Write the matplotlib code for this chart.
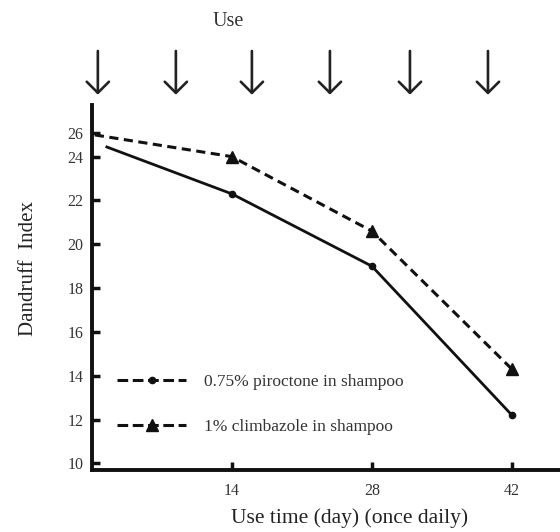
import matplotlib
matplotlib.use("Agg")
import matplotlib.pyplot as plt
import numpy as np
from matplotlib.lines import Line2D
from matplotlib.scale import FuncScale

plt.rcParams['font.family'] = ['Liberation Serif', 'DejaVu Serif']

# ---- data ----
piro_days = [1.5, 14, 28, 42]
piro_vals = [24.8, 22.3, 19.0, 12.2]
clim_days = [0.3, 14, 28, 42]
clim_vals = [25.8, 24.0, 20.6, 14.3]
x_ticks = [14, 28, 42]
y_ticks = [10, 12, 14, 16, 18, 20, 22, 24, 26]
use_days = [0.6, 8.4, 16.0, 23.8, 31.8, 39.6]
labels = ["0.75% piroctone in shampoo", "1% climbazole in shampoo"]

# compressed scale above 24 (as in the original axis)
def fwd(y):
    y = np.asarray(y, dtype=float)
    return np.where(y <= 24, y, 24 + (y - 24) * 0.55)

def inv(y):
    y = np.asarray(y, dtype=float)
    return np.where(y <= 24, y, 24 + (y - 24) / 0.55)

fig = plt.figure(figsize=(5.6, 5.32), dpi=100)
ax = fig.add_axes([0.164, 0.1165, 0.836, 0.6865])
ax.set_yscale(FuncScale(ax.yaxis, (fwd, inv)))

ax.plot(piro_days, piro_vals, color='#111111', lw=2.0, ls='-')
ax.plot(piro_days[1:], piro_vals[1:], ls='none', marker='o', ms=4.5, color='#111111')
ax.plot(clim_days, clim_vals, color='#111111', lw=2.2, ls=(0, (3.0, 1.8)))
ax.plot(clim_days[1:], clim_vals[1:], ls='none', marker='^', ms=8, color='#111111')

ax.set_xlim(0, 46.8)
ax.set_ylim(9.7, 28.3)
ax.set_xticks(x_ticks)
ax.set_yticks(y_ticks)
ax.tick_params(axis='both', direction='in', length=6, width=2.5, labelsize=11.5,
               colors='#111111', labelcolor='#333333')
ax.tick_params(axis='x', pad=9)
ax.tick_params(axis='y', pad=6)
for s in ['top', 'right']:
    ax.spines[s].set_visible(False)
for s in ['left', 'bottom']:
    ax.spines[s].set_linewidth(2.8)
    ax.spines[s].set_color('#111111')

ax.set_xlabel("Use time (day) (once daily)", fontsize=15.5, color='#222222')
ax.xaxis.set_label_coords(0.551, -0.105)
ax.set_ylabel("Dandruff  Index", fontsize=15, color='#222222')
ax.yaxis.set_label_coords(-0.115, 0.553)

# use arrows
trans = matplotlib.transforms.blended_transform_factory(ax.transData, ax.transAxes)
for d in use_days:
    ax.annotate('', xy=(d, 1.02), xytext=(d, 1.155), xycoords=trans, textcoords=trans,
                arrowprops=dict(arrowstyle='->,head_length=0.8,head_width=0.8', lw=1.9,
                                color='#222222'), annotation_clip=False)
ax.text(13.6, 1.228, "Use", transform=trans, ha='center', va='center', fontsize=14.5,
        color='#333333', clip_on=False)

# legend
h1 = Line2D([], [], color='#111111', lw=2.2, ls=(0, (3.5, 1.5)), marker='o', ms=4.5)
h2 = Line2D([], [], color='#111111', lw=2.2, ls=(0, (3.5, 1.5)), marker='^', ms=8)
leg = ax.legend([h1, h2], labels, loc='lower left', bbox_to_anchor=(0.02, 0.053),
                frameon=False, fontsize=12.5, handlelength=4.0, labelspacing=1.65,
                handletextpad=1.0, markerfirst=True)
for t in leg.get_texts():
    t.set_color('#333333')

fig.savefig("out.png", dpi=100)
